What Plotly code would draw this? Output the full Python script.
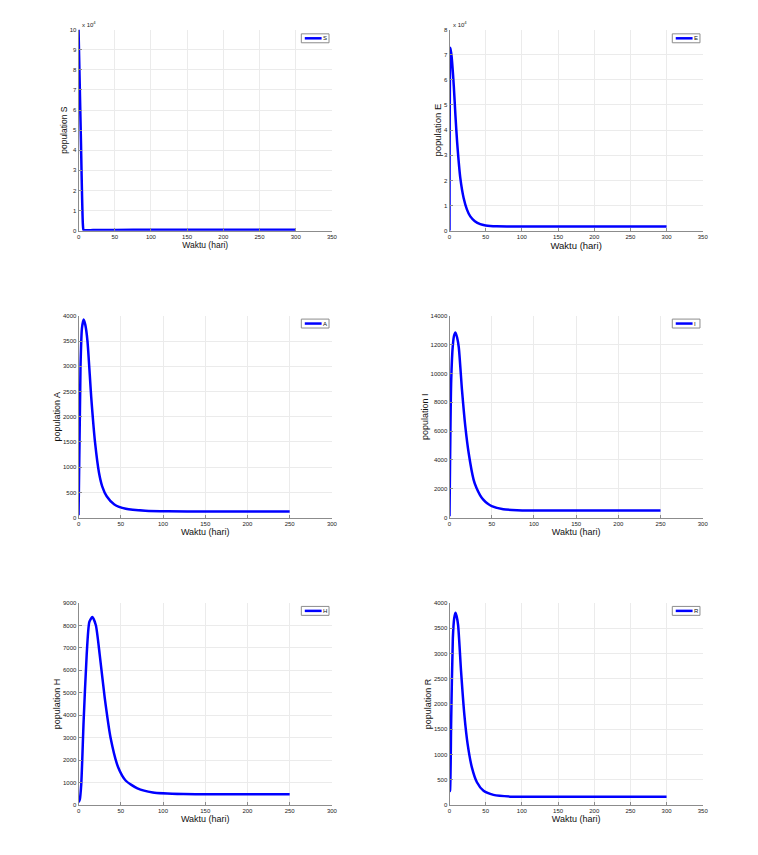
import plotly.graph_objects as go

# Dati (tempo in giorni, popolazione)
t_S = [0, 3, 6, 7, 10, 20, 50, 100, 150, 200, 250, 300]
S = [100000, 50000, 3000, 300, 250, 300, 400, 450, 480, 500, 500, 500]

t_E = [0, 1.4, 3, 5.9, 8.2, 10.5, 15, 19.6, 24, 28.7, 35, 42.4, 50, 65, 80, 100, 150, 200, 250, 300]
E = [0, 72800, 69000, 57600, 45800, 35300, 20800, 12900, 8500, 5700, 3800, 2600, 2100, 1750, 1700, 1700, 1700, 1700, 1700, 1700]

t_A = [0, 2.3, 4, 6, 8, 10.5, 15, 19.6, 24.2, 28, 33.3, 42.4, 56, 79, 106, 150, 200, 250]
A = [50, 2980, 3750, 3925, 3820, 3510, 2390, 1480, 890, 620, 425, 262, 177, 138, 125, 120, 120, 120]

t_I = [0, 2, 4, 5.5, 7, 9, 11, 14.8, 18.75, 22.7, 28.5, 32, 36.3, 40, 45, 50, 63.7, 80, 95, 150, 200, 250]
I = [100, 9500, 12000, 12650, 12850, 12500, 11800, 8840, 6310, 4480, 2640, 2050, 1550, 1250, 975, 800, 585, 520, 500, 490, 490, 490]

t_H = [0, 1.5, 3.2, 6, 9.6, 12.8, 16.4, 20.5, 25.1, 31, 37.9, 47, 56, 69.7, 88, 124, 175, 250]
H = [120, 250, 930, 3730, 6680, 8160, 8380, 8010, 6680, 4770, 3000, 1670, 1080, 740, 560, 490, 480, 480]

t_R = [0, 0.7, 2.3, 4.6, 6.5, 8.2, 9.8, 11.9, 16, 20.5, 25.1, 31, 37.9, 47, 60.7, 88, 150, 200, 250, 300]
R = [260, 290, 1660, 3300, 3700, 3810, 3740, 3560, 2640, 1790, 1200, 740, 450, 280, 200, 165, 165, 165, 165, 165]

# (nome, tempo, valori, range x, range y, passo y, esponente, dimensione titoli)
panels = [
    ("S", t_S, S, 350, 100000, 10000, 4, 8.5),
    ("E", t_E, E, 350, 80000, 10000, 4, 9.5),
    ("A", t_A, A, 300, 4000, 500, None, 9),
    ("I", t_I, I, 300, 14000, 2000, None, 9),
    ("H", t_H, H, 300, 9000, 1000, None, 9),
    ("R", t_R, R, 350, 4000, 500, None, 9),
]

# La pagina ha 8px di margine: la figura deve starci dentro senza scroll
OFF = 8
W, H_PX = 758 - 2 * OFF, 855 - 2 * OFF
x_dom = [(77.3, 333.4), (452.3, 708.3)]
y_dom = [(26.7, 229.3), (315.0, 518.3), (604.3, 807.7)]
legend_top = [31.0, 318.3, 607.7]
legend_left = [302.5, 677.5]
BLUE = "#0000ff"


def px(x):
    return (x - OFF) / W


def py(y):
    return 1 - (y - OFF) / H_PX


fig = go.Figure()
annotations = []
shapes = []
font = "Arial, Liberation Sans, sans-serif"

for k, (name, tt, vals, xmax, ymax, ystep, expo, tsize) in enumerate(panels):
    row, col = k // 2, k % 2
    n = "" if k == 0 else str(k + 1)

    fig.add_trace(go.Scatter(
        x=tt, y=vals, mode="lines", name=name,
        line=dict(color=BLUE, width=2.5, shape="spline", smoothing=0.6),
        xaxis="x" + n, yaxis="y" + n, showlegend=False
    ))

    x0, x1 = x_dom[col]
    y0, y1 = y_dom[row]
    axis_common = dict(
        showgrid=True, gridcolor="#ebebeb", gridwidth=1,
        showline=True, linecolor="#8c8c8c", linewidth=1,
        ticks="inside", ticklen=3, tickcolor="#8c8c8c",
        tickfont=dict(size=6, color="#222", family=font),
        zeroline=False, fixedrange=True,
    )
    xax = dict(axis_common, domain=[px(x0), px(x1)], range=[0, xmax], dtick=50,
               tick0=0, anchor="y" + n,
               title=dict(text="Waktu (hari)", font=dict(size=tsize, color="#111", family=font), standoff=0))
    yticks = list(range(0, ymax + 1, ystep))
    if expo:
        ytext = [str(v // 10 ** expo) for v in yticks]
    else:
        ytext = [str(v) for v in yticks]
    yax = dict(axis_common, domain=[py(y1), py(y0)], range=[0, ymax],
               tickvals=yticks, ticktext=ytext, anchor="x" + n,
               title=dict(text="population " + name, font=dict(size=tsize, color="#111", family=font), standoff=0))
    fig.layout["xaxis" + n] = xax
    fig.layout["yaxis" + n] = yax

    # Legenda piccola in alto a destra, stile MATLAB
    lx, ly = legend_left[col], legend_top[row]
    shapes.append(dict(type="rect", xref="paper", yref="paper",
                       x0=px(lx), x1=px(lx + 28), y0=py(ly + 9), y1=py(ly),
                       line=dict(color="#8c8c8c", width=1), fillcolor="white"))
    shapes.append(dict(type="line", xref="paper", yref="paper",
                       x0=px(lx + 3.5), x1=px(lx + 20.5), y0=py(ly + 4.5), y1=py(ly + 4.5),
                       line=dict(color=BLUE, width=2.5)))
    annotations.append(dict(text=name, xref="paper", yref="paper",
                            x=px(lx + 19.5), y=py(ly + 4.5), xanchor="left", yanchor="middle",
                            showarrow=False, font=dict(size=6, color="#111", family=font)))

    if expo:
        annotations.append(dict(
            text=f"x 10<sup>{expo}</sup>", xref="paper", yref="paper",
            x=px(x0) + 0.002, y=py(y0), xanchor="left", yanchor="bottom",
            showarrow=False, font=dict(size=6, color="#222", family=font)
        ))

fig.update_layout(
    width=W, height=H_PX,
    margin=dict(l=0, r=0, t=0, b=0),
    plot_bgcolor="white", paper_bgcolor="white",
    annotations=annotations, shapes=shapes,
)

fig.write_html("out.html")
